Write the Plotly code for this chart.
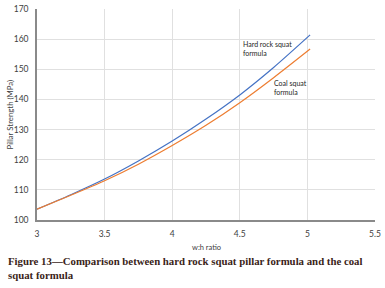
import plotly.graph_objects as go

wh_ratio = [3.0, 3.25, 3.5, 3.75, 4.0, 4.25, 4.5, 4.75, 5.02]
hard_rock = [103.6, 108.4, 113.6, 119.6, 126.2, 133.5, 141.5, 150.6, 161.4]
coal = [103.6, 108.2, 113.0, 118.5, 124.7, 131.4, 138.9, 147.2, 156.7]
x_ticks = [3, 3.5, 4, 4.5, 5, 5.5]
y_ticks = [100, 110, 120, 130, 140, 150, 160, 170]

sans = "Lato, Liberation Sans, sans-serif"
tick_font = dict(family=sans, size=8.5, color="#404040")

fig = go.Figure()
fig.add_trace(go.Scatter(x=wh_ratio, y=hard_rock, mode="lines", line=dict(color="#4472C4", width=1.2, shape="spline", smoothing=0.8), name="Hard rock squat formula"))
fig.add_trace(go.Scatter(x=wh_ratio, y=coal, mode="lines", line=dict(color="#ED7D31", width=1.2, shape="spline", smoothing=0.8), name="Coal squat formula"))

fig.update_layout(
    width=385, height=288,
    margin=dict(l=37, r=10, t=9, b=68, autoexpand=False),
    paper_bgcolor="white", plot_bgcolor="white",
    showlegend=False,
    xaxis=dict(range=[3, 5.5], tickvals=x_ticks, ticktext=[str(v) for v in x_ticks],
               showgrid=True, gridcolor="#e0e0e0", gridwidth=1,
               showline=True, linecolor="#8a8a8a", linewidth=1.5,
               zeroline=False, tickfont=tick_font, ticks="", automargin=False,
               ticklabelstandoff=5),
    yaxis=dict(range=[100, 170], tickvals=y_ticks,
               showgrid=True, gridcolor="#e0e0e0", gridwidth=1,
               showline=True, linecolor="#8a8a8a", linewidth=1.5,
               zeroline=False, tickfont=tick_font, ticks="", automargin=False,
               ticklabelstandoff=5),
)

fig.add_annotation(xref="paper", yref="paper", x=0.5, y=-0.10, text="w:h ratio", showarrow=False,
                   xanchor="center", yanchor="top", font=dict(family=sans, size=7.5, color="#404040"))
fig.add_annotation(xref="paper", yref="paper", x=-0.08, y=0.5, text="Pillar Strength (MPa)", showarrow=False,
                   textangle=-90, xanchor="center", yanchor="middle", font=dict(family=sans, size=7.8, color="#404040"))

fig.add_annotation(x=4.51, y=160.4, text="Hard rock squat<br>formula", showarrow=False,
                   xanchor="left", yanchor="top", align="left",
                   font=dict(family=sans, size=7, color="#262626"))
fig.add_annotation(x=4.735, y=147.6, text="Coal squat<br>formula", showarrow=False,
                   xanchor="left", yanchor="top", align="left",
                   font=dict(family=sans, size=7, color="#262626"))

fig.add_annotation(xref="paper", yref="paper", x=-0.092, y=-0.155,
                   text="<b>Figure 13—Comparison between hard rock squat pillar formula and the coal<br>squat formula</b>",
                   showarrow=False, xanchor="left", yanchor="top", align="left",
                   font=dict(family="Liberation Serif, serif", size=10.8, color="#3a2418"))

fig.write_html("out.html", config={"displayModeBar": False},
               post_script="document.body.style.margin='0px';")
